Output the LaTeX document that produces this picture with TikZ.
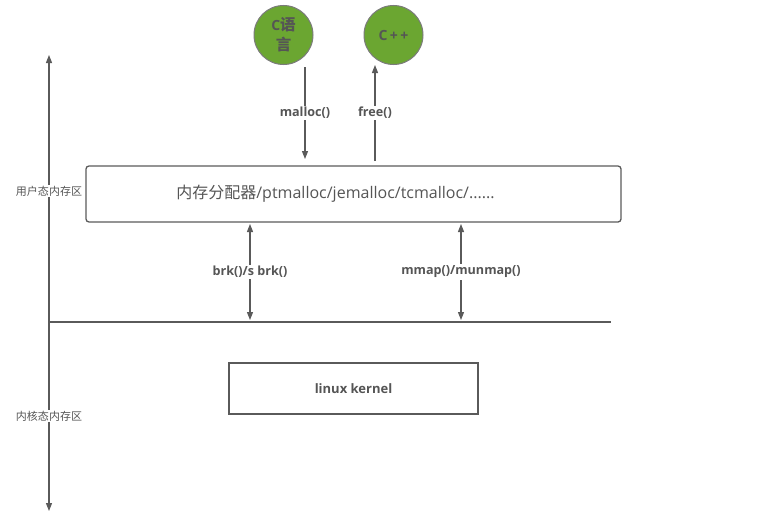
\documentclass[tikz,border=0pt]{standalone}
\usepackage{fontspec}
\setmainfont{Open Sans}
\newfontfamily\cjk{Noto Sans CJK SC}
\usetikzlibrary{arrows.meta}
\definecolor{ln}{HTML}{5A5A5A}
\definecolor{tx}{HTML}{555555}
\definecolor{gr}{HTML}{6BA631}
\tikzset{
  every node/.style={text=tx},
  conn/.style={draw=ln, line width=1.1pt, -{Triangle[length=8pt,width=6pt]}},
  biconn/.style={draw=ln, line width=1.1pt, {Triangle[length=8pt,width=6pt]}-{Triangle[length=8pt,width=6pt]}},
  lang/.style={circle, draw=ln!80, line width=1pt, fill=gr, minimum size=59pt, inner sep=0pt, font=\bfseries\fontsize{14}{20}\selectfont, align=center},
  lbl/.style={fill=white, inner sep=1.5pt, font=\bfseries\fontsize{12.6}{14}\selectfont},
  side/.style={fill=white, inner sep=1pt, font=\cjk\fontsize{11}{13}\selectfont},
}
\begin{document}
\begin{tikzpicture}[x=1pt,y=-1pt]
\useasboundingbox (0,0) rectangle (759,519);
% axis
\coordinate (atop) at (49,55);
\coordinate (abot) at (49,511);
\draw[biconn] (abot) -- (atop);
\coordinate (hl) at (49,322);
\coordinate (hr) at (611,322);
\draw[draw=ln, line width=1.3pt] (hl) -- (hr);
\node[side] (user) at (49,191) {用户态内存区};
\node[side] (kern) at (49,416) {内核态内存区};
% circles
\node[lang] (c) at (283.5,35) {C{\cjk\fontsize{15.5}{20}\selectfont 语}\\{\cjk\fontsize{15.5}{20}\selectfont 言}};
\node[lang] (cpp) at (393.5,35) {C\,+\,+};
% main box
\node[draw=ln, line width=1.3pt, rounded corners=3pt, minimum width=535pt, minimum height=56pt, inner sep=0pt, font=\fontsize{16}{18}\selectfont] (alloc) at (353.5,194) {{\cjk 内存分配器}/ptmalloc/jemalloc/tcmalloc/......\hspace*{36pt}};
% kernel box
\node[draw=ln, line width=1.3pt, minimum width=249pt, minimum height=51pt, inner sep=0pt, font=\bfseries\fontsize{13}{15}\selectfont] (linux) at (353.5,388.5) {linux kernel};
% arrows
\coordinate (m1) at (305,67);
\coordinate (m2) at (305,159);
\draw[conn] (m1) -- node[lbl] {malloc()} (m2);
\coordinate (f1) at (375,161);
\coordinate (f2) at (375,65);
\draw[conn] (f1) -- node[lbl, pos=0.5] {free()} (f2);
\coordinate (b1) at (250,224);
\coordinate (b2) at (250,320);
\draw[biconn] (b1) -- node[lbl] {brk()/s brk()} (b2);
\coordinate (p1) at (461,224);
\coordinate (p2) at (461,320);
\draw[biconn] (p1) -- node[lbl, pos=0.5] {mmap()/munmap()} (p2);
\end{tikzpicture}
\end{document}
